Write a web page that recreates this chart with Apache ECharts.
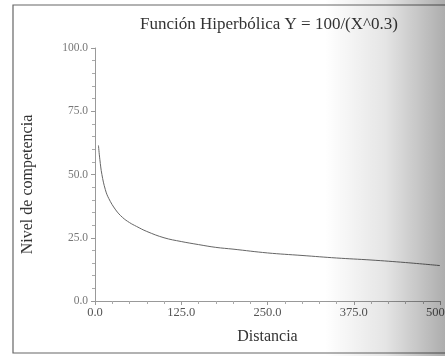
<!DOCTYPE html>
<html><head><meta charset="utf-8">
<script src="https://cdn.jsdelivr.net/npm/echarts@6/dist/echarts.min.js"></script>
<style>html,body{margin:0;padding:0;background:#fff}#c{width:445px;height:356px}</style>
</head><body><div id="c"></div>
<script>
const titleText = "Función Hiperbólica Y = 100/(X^0.3)";
const xName = "Distancia";
const yName = "Nivel de competencia";
const distancia = [5, 7, 10, 15, 20, 30, 40, 50, 60, 75, 100, 125, 150, 175, 200, 250, 300, 350, 400, 450, 500];
const nivel = [61.5, 56, 50, 44, 40.5, 36, 33, 31, 29.5, 27.5, 25, 23.5, 22.3, 21.2, 20.5, 19, 18, 17, 16.2, 15.2, 14];

const chart = echarts.init(document.getElementById('c'), null, {renderer: 'canvas'});
const font = '"Liberation Serif", "DejaVu Serif", serif';
chart.setOption({
  backgroundColor: '#fff',
  animation: false,
  title: {text: titleText, left: 264, top: 11, textAlign: 'center',
    textStyle: {fontFamily: font, fontSize: 17, fontWeight: 'normal', color: '#333'}},
  grid: {left: 95, top: 48, right: 5, bottom: 55, outerBoundsMode: 'none', containLabel: false},
  xAxis: {type: 'value', min: 0, max: 500, interval: 125,
    name: xName, nameLocation: 'middle', nameGap: 28,
    nameTextStyle: {fontFamily: font, fontSize: 16, color: '#333'},
    axisLine: {lineStyle: {color: '#999'}},
    axisTick: {length: 4, lineStyle: {color: '#999'}},
    minorTick: {show: true, splitNumber: 5, length: 3, lineStyle: {color: '#aaa'}},
    splitLine: {show: false},
    axisLabel: {fontFamily: font, fontSize: 12.5, color: '#555', margin: 5, formatter: v => v.toFixed(1)}},
  yAxis: {type: 'value', min: 0, max: 100, interval: 25,
    name: yName, nameLocation: 'middle', nameGap: 59, nameRotate: 90,
    nameTextStyle: {fontFamily: font, fontSize: 16, color: '#333', padding: [0, 20, 0, 0]},
    axisLine: {show: true, lineStyle: {color: '#999'}},
    axisTick: {show: true, length: 4, lineStyle: {color: '#999'}},
    minorTick: {show: true, splitNumber: 5, length: 3, lineStyle: {color: '#aaa'}},
    splitLine: {show: false},
    axisLabel: {fontFamily: font, fontSize: 11.5, color: '#777', margin: 7, formatter: v => v.toFixed(1)}},
  series: [{type: 'line', data: distancia.map((x, i) => [x, nivel[i]]), smooth: 0.4,
    showSymbol: false, lineStyle: {color: '#666', width: 1}}],
  graphic: [
    {type: 'rect', silent: true, z: -1, shape: {x: 13, y: 5, width: 440, height: 348},
      style: {fill: 'none', stroke: '#666', lineWidth: 1.2}},
    {type: 'rect', silent: true, z: 100, shape: {x: 325, y: 0, width: 120, height: 356},
      style: {fill: new echarts.graphic.LinearGradient(0, 0, 1, 0, [
        {offset: 0, color: 'rgba(0,0,0,0)'},
        {offset: 0.5, color: 'rgba(0,0,0,0.1)'},
        {offset: 1, color: 'rgba(0,0,0,0.32)'}])}}
  ]
});
</script></body></html>
